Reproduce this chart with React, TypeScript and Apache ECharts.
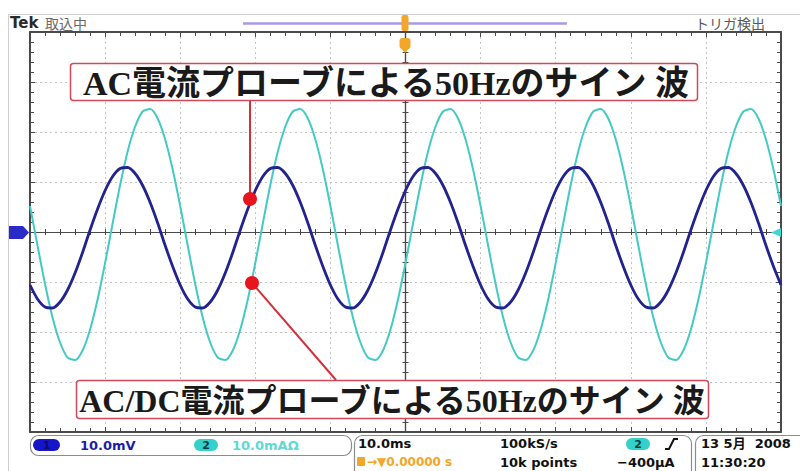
import React, { useEffect, useRef } from "react";
import * as echarts from "echarts";

// Acquisition instants (ms), trigger point at 0, 10 ms/div over 10 divisions
const timeMs = [
  -50, -49, -48, -47, -46, -45, -44, -43, -42, -41, -40, -39, -38, -37, -36, -35, -34, -33, -32, -31,
  -30, -29, -28, -27, -26, -25, -24, -23, -22, -21, -20, -19, -18, -17, -16, -15, -14, -13, -12, -11,
  -10, -9, -8, -7, -6, -5, -4, -3, -2, -1, 0, 1, 2, 3, 4, 5, 6, 7, 8, 9,
  10, 11, 12, 13, 14, 15, 16, 17, 18, 19, 20, 21, 22, 23, 24, 25, 26, 27, 28, 29,
  30, 31, 32, 33, 34, 35, 36, 37, 38, 39, 40, 41, 42, 43, 44, 45, 46, 47, 48, 49,
  50,
];

// CH1 – AC current probe output (mV), 10.0 mV/div
const ch1Mv = [
  -10.6, -13.4, -15.0, -15.2, -14.0, -11.6, -8.2, -4.1, 0.4, 4.6, 8.3, 11.1, 12.7, 12.9, 11.7, 9.3, 5.9, 1.8, -2.7, -6.9,
  -10.6, -13.4, -15.0, -15.2, -14.0, -11.6, -8.2, -4.1, 0.4, 4.6, 8.3, 11.1, 12.7, 12.9, 11.7, 9.3, 5.9, 1.8, -2.7, -6.9,
  -10.6, -13.4, -15.0, -15.2, -14.0, -11.6, -8.2, -4.1, 0.4, 4.6, 8.3, 11.1, 12.7, 12.9, 11.7, 9.3, 5.9, 1.8, -2.7, -6.9,
  -10.6, -13.4, -15.0, -15.2, -14.0, -11.6, -8.2, -4.1, 0.4, 4.6, 8.3, 11.1, 12.7, 12.9, 11.7, 9.3, 5.9, 1.8, -2.7, -6.9,
  -10.6, -13.4, -15.0, -15.2, -14.0, -11.6, -8.2, -4.1, 0.4, 4.6, 8.3, 11.1, 12.7, 12.9, 11.7, 9.3, 5.9, 1.8, -2.7, -6.9,
  -10.6,
];

// CH2 – AC/DC current probe (mA), 10.0 mA/div
const ch2Ma = [
  5.2, -2.7, -10.4, -17.1, -22.1, -25.1, -25.6, -23.7, -19.5, -13.5, -6.2, 1.7, 9.4, 16.1, 21.1, 24.1, 24.6, 22.7, 18.5, 12.5,
  5.2, -2.7, -10.4, -17.1, -22.1, -25.1, -25.6, -23.7, -19.5, -13.5, -6.2, 1.7, 9.4, 16.1, 21.1, 24.1, 24.6, 22.7, 18.5, 12.5,
  5.2, -2.7, -10.4, -17.1, -22.1, -25.1, -25.6, -23.7, -19.5, -13.5, -6.2, 1.7, 9.4, 16.1, 21.1, 24.1, 24.6, 22.7, 18.5, 12.5,
  5.2, -2.7, -10.4, -17.1, -22.1, -25.1, -25.6, -23.7, -19.5, -13.5, -6.2, 1.7, 9.4, 16.1, 21.1, 24.1, 24.6, 22.7, 18.5, 12.5,
  5.2, -2.7, -10.4, -17.1, -22.1, -25.1, -25.6, -23.7, -19.5, -13.5, -6.2, 1.7, 9.4, 16.1, 21.1, 24.1, 24.6, 22.7, 18.5, 12.5,
  5.2,
];

// Screen texts
const labelAc = "AC電流プローブによる50Hzのサイン 波";
const labelAcDc = "AC/DC電流プローブによる50Hzのサイン 波";
const headerBrand = "Tek";
const headerState = "取込中";
const headerTrig = "トリガ検出";
const ch1Scale = "10.0mV";
const ch2Scale = "10.0mAΩ";
const timeScale = "10.0ms";
const triggerPos = "→▼0.00000 s";
const sampleRate = "100kS/s";
const recordLen = "10k points";
const triggerLevel = "−400µA";
const dateText = "13 5月  2008";
const clockText = "11:30:20";

const FRAME = "#4a4a4a";
const DOTS = "#c4c4c4";
const CH1_COLOR = "#23238f";
const CH2_COLOR = "#45c9c3";
const LEADER = "#d3303c";
const SANS = "'DejaVu Sans', sans-serif";
const JP = "'Noto Sans CJK JP', sans-serif";
const SERIF_JP = "'Liberation Serif', 'Noto Sans CJK JP', serif";

const xRange = { type: "value", min: -50, max: 50, interval: 10 };
const yRange = { type: "value", min: -40, max: 40, interval: 10 };

function borderAxis(range: any, position: string, grid: boolean) {
  return {
    ...range,
    position,
    axisLine: { show: true, onZero: false, lineStyle: { color: FRAME, width: 2 } },
    axisTick: { show: true, inside: true, length: 5, lineStyle: { color: FRAME, width: 1 } },
    minorTick: { show: true, splitNumber: 5, length: 4, lineStyle: { color: FRAME, width: 1 } },
    axisLabel: { show: false },
    splitLine: { show: grid, lineStyle: { color: DOTS, type: [2, 3], width: 1 } },
    minorSplitLine: { show: false },
  };
}

function centerAxis(range: any, position: string, inside: boolean) {
  return {
    ...range,
    position,
    axisLine: { show: true, onZero: true, onZeroAxisIndex: 0, lineStyle: { color: FRAME, width: 1.2 } },
    axisTick: { show: true, inside, length: 3, lineStyle: { color: FRAME, width: 1 } },
    minorTick: { show: true, splitNumber: 5, length: 3, lineStyle: { color: FRAME, width: 1 } },
    axisLabel: { show: false },
    splitLine: { show: false },
  };
}

function txt(x: number, y: number, text: string, font: any, extra: any = {}) {
  return {
    type: "text",
    x,
    y,
    z: 100,
    style: { text, fill: "#222", textVerticalAlign: "middle", ...font, ...extra },
  };
}

function pill(x: number, y: number, w: number, h: number, fill: string, label: string, labelColor: string) {
  return [
    { type: "rect", z: 100, shape: { x, y, width: w, height: h, r: h / 2 }, style: { fill } },
    txt(x + w / 2, y + h / 2 + 0.5, label, { fontFamily: SANS, fontSize: 11, fontWeight: "bold" }, { fill: labelColor, textAlign: "center" }),
  ];
}

export default function App() {
  const ref = useRef<HTMLDivElement>(null);

  useEffect(() => {
    const chart = echarts.init(ref.current!, null, { renderer: "svg", width: 800, height: 471 });

    const statusFont = { fontFamily: SANS, fontSize: 13, fontWeight: "bold" };

    const graphics: any[] = [
      // outer screen frame
      { type: "rect", z: 1, shape: { x: 8.5, y: 14.5, width: 800, height: 470 }, style: { fill: "none", stroke: "#cfcfcf", lineWidth: 1 } },

      // header
      txt(10, 23, headerBrand, { fontFamily: SANS, fontSize: 15, fontWeight: "bold" }, { fill: "#2a2a2a" }),
      txt(45, 23, headerState, { fontFamily: JP, fontSize: 14 }, { fill: "#6a6a6a" }),
      txt(765, 23, headerTrig, { fontFamily: JP, fontSize: 14 }, { fill: "#5a5a5a", textAlign: "right" }),
      { type: "line", z: 100, shape: { x1: 243, y1: 23.5, x2: 567, y2: 23.5 }, style: { stroke: "#a79ae6", lineWidth: 2.5 } },

      // trigger position markers
      { type: "rect", z: 101, shape: { x: 401.5, y: 15, width: 7, height: 16, r: 2 }, style: { fill: "#f2a62a" } },
      { type: "rect", z: 101, shape: { x: 399.5, y: 38, width: 11, height: 11, r: 3 }, style: { fill: "#f2a62a" } },
      { type: "polygon", z: 101, shape: { points: [[400, 47], [410, 47], [405, 53]] }, style: { fill: "#f2a62a" } },

      // ground reference markers
      { type: "polygon", z: 101, shape: { points: [[9, 226], [23, 226], [29, 232.5], [23, 239], [9, 239]] }, style: { fill: "#2a2ac8" } },
      txt(16, 233, "1", { fontFamily: SANS, fontSize: 11, fontWeight: "bold" }, { fill: "#ffffff", textAlign: "center" }),
      { type: "polygon", z: 101, shape: { points: [[771, 232.5], [781, 228], [781, 237]] }, style: { fill: "#3fd6d6" } },

      // annotation: AC probe
      { type: "line", z: 99, shape: { x1: 250, y1: 100, x2: 250, y2: 195 }, style: { stroke: LEADER, lineWidth: 2 } },
      { type: "circle", z: 102, shape: { cx: 250, cy: 199, r: 7 }, style: { fill: "#e8141e" } },
      { type: "rect", z: 100, shape: { x: 70.5, y: 63.5, width: 627, height: 37, r: 3 }, style: { fill: "#ffffff", stroke: "#d24a5a", lineWidth: 1.5 } },
      txt(386, 83, labelAc, { fontFamily: SERIF_JP, fontSize: 34, fontWeight: "bold" }, { fill: "#1a1a1a", textAlign: "center" }),

      // annotation: AC/DC probe
      { type: "line", z: 99, shape: { x1: 252, y1: 283, x2: 336, y2: 380 }, style: { stroke: LEADER, lineWidth: 2 } },
      { type: "circle", z: 102, shape: { cx: 252, cy: 283, r: 7 }, style: { fill: "#e8141e" } },
      { type: "rect", z: 100, shape: { x: 76.5, y: 380.5, width: 632, height: 38, r: 3 }, style: { fill: "#ffffff", stroke: "#d24a5a", lineWidth: 1.5 } },
      txt(392, 400.5, labelAcDc, { fontFamily: SERIF_JP, fontSize: 32, fontWeight: "bold" }, { fill: "#1a1a1a", textAlign: "center" }),

      // status bar: vertical channel settings
      { type: "rect", z: 100, shape: { x: 30.5, y: 435.5, width: 321, height: 20, r: 8 }, style: { fill: "none", stroke: "#8c8c8c", lineWidth: 1.2 } },
      ...pill(33, 439, 27, 12, "#1616c8", "1", "#0a0a70"),
      txt(80, 445, ch1Scale, statusFont, { fill: "#1c1ca8" }),
      ...pill(194, 439, 24, 12, "#33d0cc", "2", "#0d3b3b"),
      txt(232, 445, ch2Scale, statusFont, { fill: "#5fd8d4" }),

      // status bar: horizontal / acquisition / trigger
      { type: "rect", z: 100, shape: { x: 354.5, y: 435.5, width: 337, height: 45, r: 8 }, style: { fill: "none", stroke: "#8c8c8c", lineWidth: 1.2 } },
      txt(358, 443, timeScale, statusFont, { fill: "#111" }),
      { type: "rect", z: 100, shape: { x: 357, y: 457, width: 8, height: 9, r: 1 }, style: { fill: "#f2a62a" } },
      txt(367, 462, triggerPos, { fontFamily: SANS, fontSize: 12, fontWeight: "bold" }, { fill: "#f2a62a" }),
      txt(500, 443, sampleRate, statusFont, { fill: "#111" }),
      txt(500, 462, recordLen, statusFont, { fill: "#111" }),
      ...pill(626, 438, 24, 12, "#33d0cc", "2", "#0d3b3b"),
      { type: "polyline", z: 100, shape: { points: [[665, 449], [669, 449], [674, 439], [678, 439]] }, style: { stroke: "#111", lineWidth: 2, fill: "none" } },
      txt(617, 462, triggerLevel, statusFont, { fill: "#111" }),

      // status bar: date / time
      { type: "rect", z: 100, shape: { x: 695.5, y: 435.5, width: 120, height: 45, r: 8 }, style: { fill: "none", stroke: "#8c8c8c", lineWidth: 1.2 } },
      txt(701, 443, dateText, { ...statusFont, fontFamily: "'DejaVu Sans', 'Noto Sans CJK JP', sans-serif" }, { fill: "#111" }),
      txt(701, 462, clockText, statusFont, { fill: "#111" }),
    ];

    const option: any = {
      animation: false,
      backgroundColor: "#ffffff",
      grid: { left: 30, top: 32, width: 751, height: 400, outerBoundsMode: "none", containLabel: false },
      xAxis: [
        borderAxis(xRange, "bottom", true),
        borderAxis(xRange, "top", false),
        centerAxis(xRange, "bottom", true),
        centerAxis(xRange, "bottom", false),
      ],
      yAxis: [
        borderAxis(yRange, "left", true),
        borderAxis(yRange, "right", false),
        centerAxis(yRange, "left", true),
        centerAxis(yRange, "left", false),
      ],
      series: [
        {
          name: "CH2",
          type: "line",
          xAxisIndex: 0,
          yAxisIndex: 0,
          data: timeMs.map((t, i) => [t, ch2Ma[i]]),
          showSymbol: false,
          smooth: 0.25,
          lineStyle: { color: CH2_COLOR, width: 2 },
          z: 3,
        },
        {
          name: "CH1",
          type: "line",
          xAxisIndex: 0,
          yAxisIndex: 0,
          data: timeMs.map((t, i) => [t, ch1Mv[i]]),
          showSymbol: false,
          smooth: 0.25,
          lineStyle: { color: CH1_COLOR, width: 2.8 },
          z: 4,
        },
      ],
      graphic: graphics,
    };

    chart.setOption(option);
    return () => chart.dispose();
  }, []);

  return (
    <div
      ref={ref}
      style={{ position: "absolute", left: 0, top: 0, width: 800, height: 471, background: "#ffffff" }}
    />
  );
}
